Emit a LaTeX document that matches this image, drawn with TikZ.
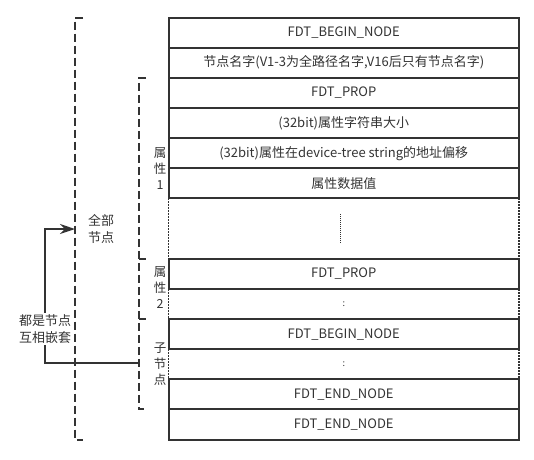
\documentclass[tikz,border=0pt]{standalone}
\usepackage{fontspec}
\setmainfont{Noto Sans CJK SC}
\usetikzlibrary{arrows.meta}
\definecolor{ink}{HTML}{333333}

\begin{document}
\begin{tikzpicture}[x=1pt,y=-1pt,>={Stealth[length=15pt,width=10pt]},
  row/.style={draw=ink,line width=2pt,anchor=north west,minimum width=350.5pt,minimum height=30.15pt,inner sep=0pt,outer sep=0pt,text=ink,font=\fontsize{13}{15}\selectfont},
  gaprow/.style={row,draw=none},
  gapside/.style={draw=ink,line width=1.5pt,dash pattern=on 2pt off 1pt},
  bracket/.style={draw=ink,line width=2pt,dash pattern=on 8pt off 4pt},
  side/.style={align=center,text=ink,inner sep=0pt,font=\fontsize{12.5}{16}\selectfont}]
\useasboundingbox (0,0) rectangle (534,459);
\node[row] (r1) at (168.5,17.5) {FDT\_BEGIN\_NODE};
\node[row] (r2) at (168.5,47.65) {节点名字(V1-3为全路径名字,V16后只有节点名字)};
\node[row] (r3) at (168.5,77.8) {FDT\_PROP};
\node[row] (r4) at (168.5,107.95) {(32bit)属性字符串大小};
\node[row] (r5) at (168.5,138.1) {(32bit)属性在device-tree string的地址偏移};
\node[row] (r6) at (168.5,168.25) {属性数据值};
\node[gaprow,minimum height=60.3pt] (g1) at (168.5,198.4) {};
\node[row] (r7) at (168.5,258.7) {FDT\_PROP};
\node[gaprow,font=\fontsize{9}{10}\selectfont] (g2) at (168.5,288.85) {:};
\node[row] (r8) at (168.5,319) {FDT\_BEGIN\_NODE};
\node[gaprow,font=\fontsize{9}{10}\selectfont] (g3) at (168.5,349.15) {:};
\node[row] (r9) at (168.5,379.3) {FDT\_END\_NODE};
\node[row] (r10) at (168.5,409.45) {FDT\_END\_NODE};
% dashed sides of the gaps
\draw[gapside] (g1.north west) -- (g1.south west);
\draw[gapside] (g1.north east) -- (g1.south east);
\draw[gapside] (g2.north west) -- (g2.south west);
\draw[gapside] (g2.north east) -- (g2.south east);
\draw[gapside] (g3.north west) -- (g3.south west);
\draw[gapside] (g3.north east) -- (g3.south east);
\draw[ink,line width=1pt,densely dotted] ([xshift=-3.5pt,yshift=-15.5pt]g1.north) -- ([xshift=-3.5pt,yshift=15.5pt]g1.south);
% brackets
\coordinate (outx) at (75,0);
\coordinate (outtick) at (83,0);
\coordinate (inx) at (139,0);
\coordinate (intick) at (146,0);
\draw[bracket] (r1.north -| outtick) -| (outx |- r10.south) -- (r10.south -| outtick);
\draw[bracket] (r3.north -| intick) -| (inx |- r10.north) -- (r10.north -| intick);
\draw[bracket] (inx |- r7.north) -- (r7.north -| intick);
\draw[bracket] (inx |- r8.north) -- (r8.north -| intick);
\node[side] (prop1) at (160,169) {属\\性\\1};
\node[side] (prop2) at (160,288) {属\\性\\2};
\node[side] (child) at (160,364) {子\\节\\点};
\node[side,font=\fontsize{13}{17}\selectfont] (allnodes) at (101,228.5) {全部\\节点};
% nesting arrow
\coordinate (sub) at (139,363);
\coordinate (loop) at (45,363);
\coordinate (all) at (75,229);
\draw[->,draw=ink,line width=2pt] (sub) -- (loop) -- (loop |- all) -- (all);
\node[fill=white,align=center,inner sep=1pt,text=ink,font=\fontsize{13}{17.5}\selectfont] (nest) at (45,329) {都是节点\\互相嵌套};
\end{tikzpicture}
\end{document}
